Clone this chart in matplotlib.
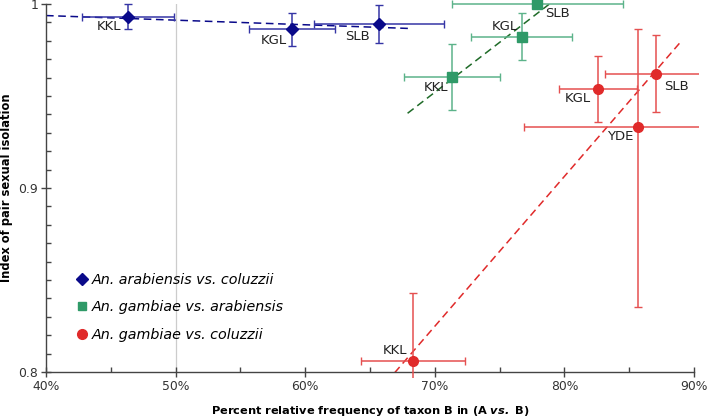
import numpy as np
import matplotlib
matplotlib.use("Agg")
import matplotlib.pyplot as plt
from matplotlib.ticker import MultipleLocator, FuncFormatter
from matplotlib.patches import Rectangle

plt.rcParams['font.family'] = ['DejaVu Sans']
plt.rcParams['mathtext.fontset'] = 'dejavusans'

# ---- data ----
blue_sites = ["KKL", "KGL", "SLB"]
blue_x = [46.3, 59.0, 65.7]
blue_y = [0.9931, 0.9862, 0.9891]
blue_xerr_lo = [3.5, 3.3, 5.0]
blue_xerr_hi = [3.6, 3.3, 5.0]
blue_yerr = [0.0068, 0.0088, 0.0102]

green_sites = ["KKL", "KGL", "SLB"]
green_x = [71.3, 76.7, 77.9]
green_y = [0.9602, 0.9821, 1.0]
green_xerr = [3.7, 3.9, 6.6]
green_yerr = [0.0180, 0.0128, 0.0]

red_sites = ["KKL", "KGL", "SLB", "YDE"]
red_x = [68.3, 82.6, 87.1, 85.7]
red_y = [0.8061, 0.954, 0.9621, 0.9332]
red_xerr = [4.0, 3.0, 4.0, 8.8]
red_yerr_lo = [0.037, 0.018, 0.021, 0.098]
red_yerr_hi = [0.037, 0.018, 0.021, 0.053]

blue_fit_range = [40.0, 68.0]
green_fit_range = [67.9, 78.9]
red_fit_range = [66.9, 89.0]

legend_labels = ["An. arabiensis vs. coluzzii",
                 "An. gambiae vs. arabiensis",
                 "An. gambiae vs. coluzzii"]

fig = plt.figure(figsize=(7.09, 4.18), dpi=100)
ax = fig.add_axes([46/709, 46/418, 648/709, 368/418])

ax.set_xlim(40, 90)
ax.set_ylim(0.8, 1.0)

ax.axvline(50, color="#cccccc", lw=0.9, zorder=0)

BLUE = "#0a0a8a"; BLUE_E = "#3535a5"
GREEN = "#2f9a68"; GREEN_E = "#5cb38a"; GREEN_L = "#1f6b28"
RED = "#e02a2a"; RED_E = "#e55050"

def fitline(x, y, rng, color):
    k, b = np.polyfit(x, y, 1)
    xs = np.array(rng)
    ax.plot(xs, k*xs + b, ls=(0, (5, 3)), color=color, lw=1.1, zorder=2)

fitline(blue_x, blue_y, blue_fit_range, BLUE)
fitline(green_x, green_y, green_fit_range, GREEN_L)
fitline(red_x, red_y, red_fit_range, RED)

ax.errorbar(blue_x, blue_y, xerr=[blue_xerr_lo, blue_xerr_hi], yerr=blue_yerr,
            fmt='D', color=BLUE, ecolor=BLUE_E, elinewidth=1.1, capsize=2.8,
            ms=6.5, zorder=3, clip_on=False)
ax.errorbar(green_x, green_y, xerr=green_xerr, yerr=green_yerr,
            fmt='s', color=GREEN, ecolor=GREEN_E, elinewidth=1.1, capsize=2.8,
            ms=6.5, zorder=3, clip_on=False)
red_eb = ax.errorbar(red_x, red_y, xerr=red_xerr, yerr=[red_yerr_lo, red_yerr_hi],
                     fmt='o', color=RED, ecolor=RED_E, elinewidth=1.1, capsize=2.8,
                     ms=7, zorder=3)
clip_rect = Rectangle((0, -0.016), 1.008, 1.03, transform=ax.transAxes,
                      fill=False, visible=False)
ax.add_patch(clip_rect)
for child in red_eb.get_children():
    child.set_clip_path(clip_rect)

lab_kw = dict(fontsize=9.5, color="#222222", zorder=4, ha='center', va='center')
blue_off = [(-1.43, -0.0052), (-1.4, -0.0058), (-1.65, -0.0065)]
for s, x, y, (dx, dy) in zip(blue_sites, blue_x, blue_y, blue_off):
    ax.text(x + dx, y + dy, s, **lab_kw)
green_off = [(-1.18, -0.0054), (-1.32, 0.0056), (1.59, -0.0054)]
for s, x, y, (dx, dy) in zip(green_sites, green_x, green_y, green_off):
    ax.text(x + dx, y + dy, s, **lab_kw)
red_off = [(-1.34, 0.0058), (-1.55, -0.0056), (1.53, -0.0071), (-1.38, -0.0054)]
for s, x, y, (dx, dy) in zip(red_sites, red_x, red_y, red_off):
    ax.text(x + dx, y + dy, s, **lab_kw)

# legend
leg_handles = [
    plt.Line2D([], [], marker='D', color=BLUE, ls='none', ms=6.5),
    plt.Line2D([], [], marker='s', color=GREEN, ls='none', ms=6),
    plt.Line2D([], [], marker='o', color=RED, ls='none', ms=7),
]
ax.legend(leg_handles, legend_labels, loc='upper left', bbox_to_anchor=(0.022, 0.305),
          frameon=False, prop=dict(size=10.3, style='italic'), handletextpad=0.1,
          labelspacing=0.95, handlelength=1.2)

# ticks
ax.xaxis.set_major_locator(MultipleLocator(10))
ax.xaxis.set_minor_locator(MultipleLocator(5))
ax.yaxis.set_major_locator(MultipleLocator(0.1))
ax.yaxis.set_minor_locator(MultipleLocator(0.01))
ax.xaxis.set_major_formatter(FuncFormatter(lambda v, p: f"{v:.0f}%"))
ax.yaxis.set_major_formatter(FuncFormatter(lambda v, p: "1" if abs(v-1) < 1e-9 else f"{v:.1f}"))
ax.tick_params(which='major', direction='inout', length=7, width=1, color="#444444",
               labelsize=8.9, labelcolor="#333333", pad=2)
ax.tick_params(which='minor', direction='in', length=3.5, width=1, color="#444444")

for s in ['top', 'right']:
    ax.spines[s].set_visible(False)
for s in ['left', 'bottom']:
    ax.spines[s].set_color("#444444")
    ax.spines[s].set_linewidth(1.0)

ax.set_xlabel(r"Percent relative frequency of taxon B in (A $\mathbfit{vs.}$ B)",
              fontsize=8.2, fontweight='bold', labelpad=8)
ax.set_ylabel("Index of pair sexual isolation", fontsize=8.3, fontweight='bold', labelpad=4)

fig.savefig("out.png", dpi=100)
